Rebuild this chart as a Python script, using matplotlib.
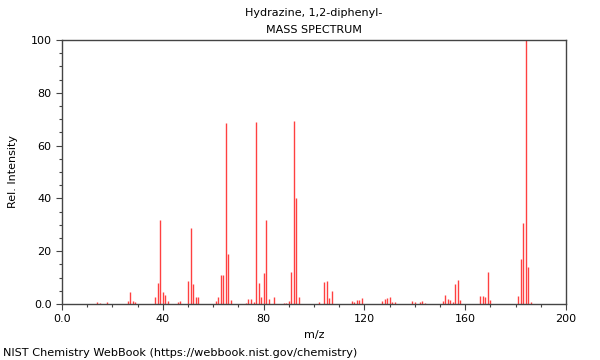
import matplotlib
matplotlib.use("Agg")
import matplotlib.pyplot as plt
from matplotlib.ticker import MultipleLocator, FuncFormatter

mz = [14, 15, 18, 26, 27, 28, 29, 37, 38, 39, 40, 41, 42, 46, 47, 50, 51, 52, 53, 54,
      61, 62, 63, 64, 65, 66, 67, 73, 74, 75, 76, 77, 78, 79, 80, 81, 82, 84, 88, 89,
      90, 91, 92, 93, 94, 102, 104, 105, 106, 107, 115, 116, 117, 118, 119,
      127, 128, 129, 130, 131, 132, 139, 140, 142, 143, 144,
      151, 152, 153, 154, 155, 156, 157, 158, 166, 167, 168, 169, 170,
      181, 182, 183, 184, 185, 186]
intensity = [0.6, 0.5, 0.7, 1.3, 4.5, 1.0, 0.6, 2.5, 7.8, 32.0, 4.5, 3.3, 1.0, 0.6, 1.2,
             8.7, 28.7, 7.6, 2.5, 2.5,
             1.0, 2.8, 11.0, 11.0, 68.4, 18.8, 1.5, 0.5, 1.8, 1.8, 0.6, 69.0, 8.0, 2.5, 11.7, 32.0,
             2.0, 2.5, 0.5, 0.5,
             1.3, 12.0, 69.3, 40.0, 2.5, 0.9, 8.2, 8.7, 2.1, 4.8, 1.3, 0.6, 1.5, 1.5, 2.3,
             1.1, 1.8, 2.1, 2.8, 0.6, 0.6, 1.1, 0.8, 0.8, 1.1, 0.5,
             1.2, 3.4, 1.9, 1.6, 0.8, 7.7, 9.0, 1.6, 3.2, 3.2, 2.8, 12.0, 1.4,
             3.2, 17.2, 30.8, 100.0, 13.9, 0.8]

title_lines = ["Hydrazine, 1,2-diphenyl-", "MASS SPECTRUM"]
xlabel = "m/z"
ylabel = "Rel. Intensity"
footer = "NIST Chemistry WebBook (https://webbook.nist.gov/chemistry)"

fig = plt.figure(figsize=(6, 3.6), dpi=100)
ax = fig.add_axes([62/600, 1-304/360, 504/600, 264/360])
ax.vlines(mz, 0, intensity, colors="#ff0000", linewidth=1.0, alpha=0.75)
ax.set_xlim(0, 200)
ax.set_ylim(0, 100)

fmt = FuncFormatter(lambda v, p: "0.0" if v == 0 else f"{int(round(v))}")
ax.xaxis.set_major_locator(MultipleLocator(40))
ax.xaxis.set_minor_locator(MultipleLocator(10))
ax.yaxis.set_major_locator(MultipleLocator(20))
ax.yaxis.set_minor_locator(MultipleLocator(5))
ax.xaxis.set_major_formatter(fmt)
ax.yaxis.set_major_formatter(fmt)
ax.tick_params(which="major", length=4, width=0.8, labelsize=8, color="#444444")
ax.tick_params(which="minor", length=2, width=0.8, color="#444444")
for s in ax.spines.values():
    s.set_color("#444444")
    s.set_linewidth(1.0)

ax.set_xlabel(xlabel, fontsize=8, labelpad=4)
ax.set_ylabel(ylabel, fontsize=8, labelpad=9)

fig.text(314/600, 1-13/360, title_lines[0], ha="center", va="center", fontsize=8)
fig.text(314/600, 1-30/360, title_lines[1], ha="center", va="center", fontsize=8)
fig.text(3/600, 1-353/360, footer, ha="left", va="center", fontsize=8.15)

fig.savefig("out.png", dpi=100)
